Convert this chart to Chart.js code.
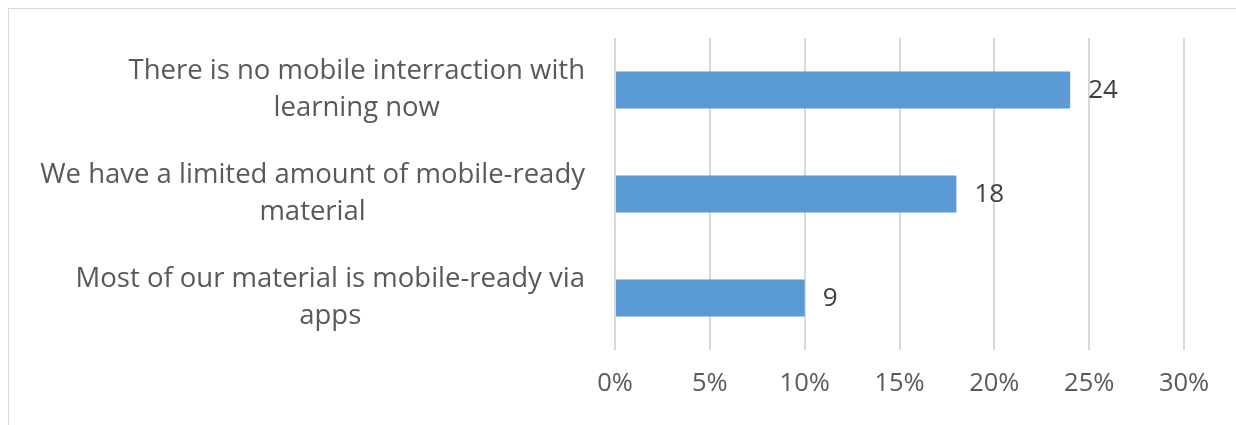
<!DOCTYPE html>
<html>
<head>
<meta charset="utf-8">
<script src="https://cdn.jsdelivr.net/npm/chart.js@4/dist/chart.umd.min.js"></script>
<style>
  html, body { margin: 0; padding: 0; background: #fff; overflow: hidden; }
  #frame {
    position: absolute; left: 8px; top: 8px; width: 1300px; height: 500px;
    border-left: 1px solid #d9d9d9; border-top: 1px solid #d9d9d9;
  }
  #wrap { position: absolute; left: 0; top: 0; width: 1236px; height: 425px; }
</style>
</head>
<body>
<div id="frame"></div>
<div id="wrap"><canvas id="newChart" width="1236" height="425"></canvas></div>
<script>
'use strict';

let categories = [
  ['There is no mobile interraction with', 'learning now'],
  ['We have a limited amount of mobile-ready', 'material'],
  ['Most of our material is mobile-ready via', 'apps']
];
let percentValues = [24, 18, 10];
let countLabels = ['24', '18', '9'];
let tickValues = [0, 5, 10, 15, 20, 25, 30];

let fontName = '"Open Sans", sans-serif';

// category labels: block right aligned, lines centred to each other
let catLabels = {
  id: 'catLabels',
  afterDraw(chart) {
    let ctx = chart.ctx;
    let yScale = chart.scales.y;
    ctx.save();
    ctx.font = '27.5px ' + fontName;
    ctx.fillStyle = '#595959';
    ctx.textBaseline = 'middle';
    ctx.textAlign = 'center';
    let right = 585;
    let lineH = 37;
    for (let i = 0; i < categories.length; i++) {
      let lines = categories[i];
      let widest = 0;
      for (let l of lines) {
        widest = Math.max(widest, ctx.measureText(l).width);
      }
      let cx = right - widest / 2;
      let cy = yScale.getPixelForTick(i);
      let top = cy - (lines.length - 1) * lineH / 2;
      for (let j = 0; j < lines.length; j++) {
        ctx.fillText(lines[j], cx, top + j * lineH);
      }
    }
    ctx.restore();
  }
};

// value labels to the right of every bar
let valueLabels = {
  id: 'valueLabels',
  afterDatasetsDraw(chart) {
    let ctx = chart.ctx;
    let meta = chart.getDatasetMeta(0);
    ctx.save();
    ctx.font = '26px ' + fontName;
    ctx.fillStyle = '#404040';
    ctx.textAlign = 'left';
    ctx.textBaseline = 'middle';
    for (let i = 0; i < meta.data.length; i++) {
      let bar = meta.data[i];
      ctx.fillText(countLabels[i], bar.x + 18, bar.y + 1);
    }
    ctx.restore();
  }
};

const data = {
  labels: categories,
  datasets: [{
    data: percentValues,
    backgroundColor: '#5b9bd5',
    borderWidth: 0,
    categoryPercentage: 1,
    barPercentage: 0.355
  }]
};

const config = {
  type: 'bar',
  data: data,
  options: {
    indexAxis: 'y',
    responsive: false,
    animation: false,
    layout: { padding: { left: 0, right: 52, top: 38, bottom: 0 } },
    plugins: { legend: { display: false }, tooltip: { enabled: false } },
    scales: {
      x: {
        min: tickValues[0],
        max: tickValues[tickValues.length - 1],
        afterBuildTicks(scale) {
          scale.ticks = tickValues.map(v => ({ value: v }));
        },
        afterFit(scale) { scale.height = 75; },
        grid: { color: '#d9d9d9', lineWidth: 2, drawTicks: false },
        border: { display: false },
        ticks: {
          padding: 18,
          color: '#595959',
          font: { family: fontName, size: 25.5 },
          callback: v => v + '%'
        }
      },
      y: {
        afterFit(scale) { scale.width = 615; },
        grid: { display: false },
        border: { display: false },
        ticks: { display: false }
      }
    }
  },
  plugins: [catLabels, valueLabels]
};

const newChart = new Chart(document.getElementById('newChart'), config);
</script>
</body>
</html>
